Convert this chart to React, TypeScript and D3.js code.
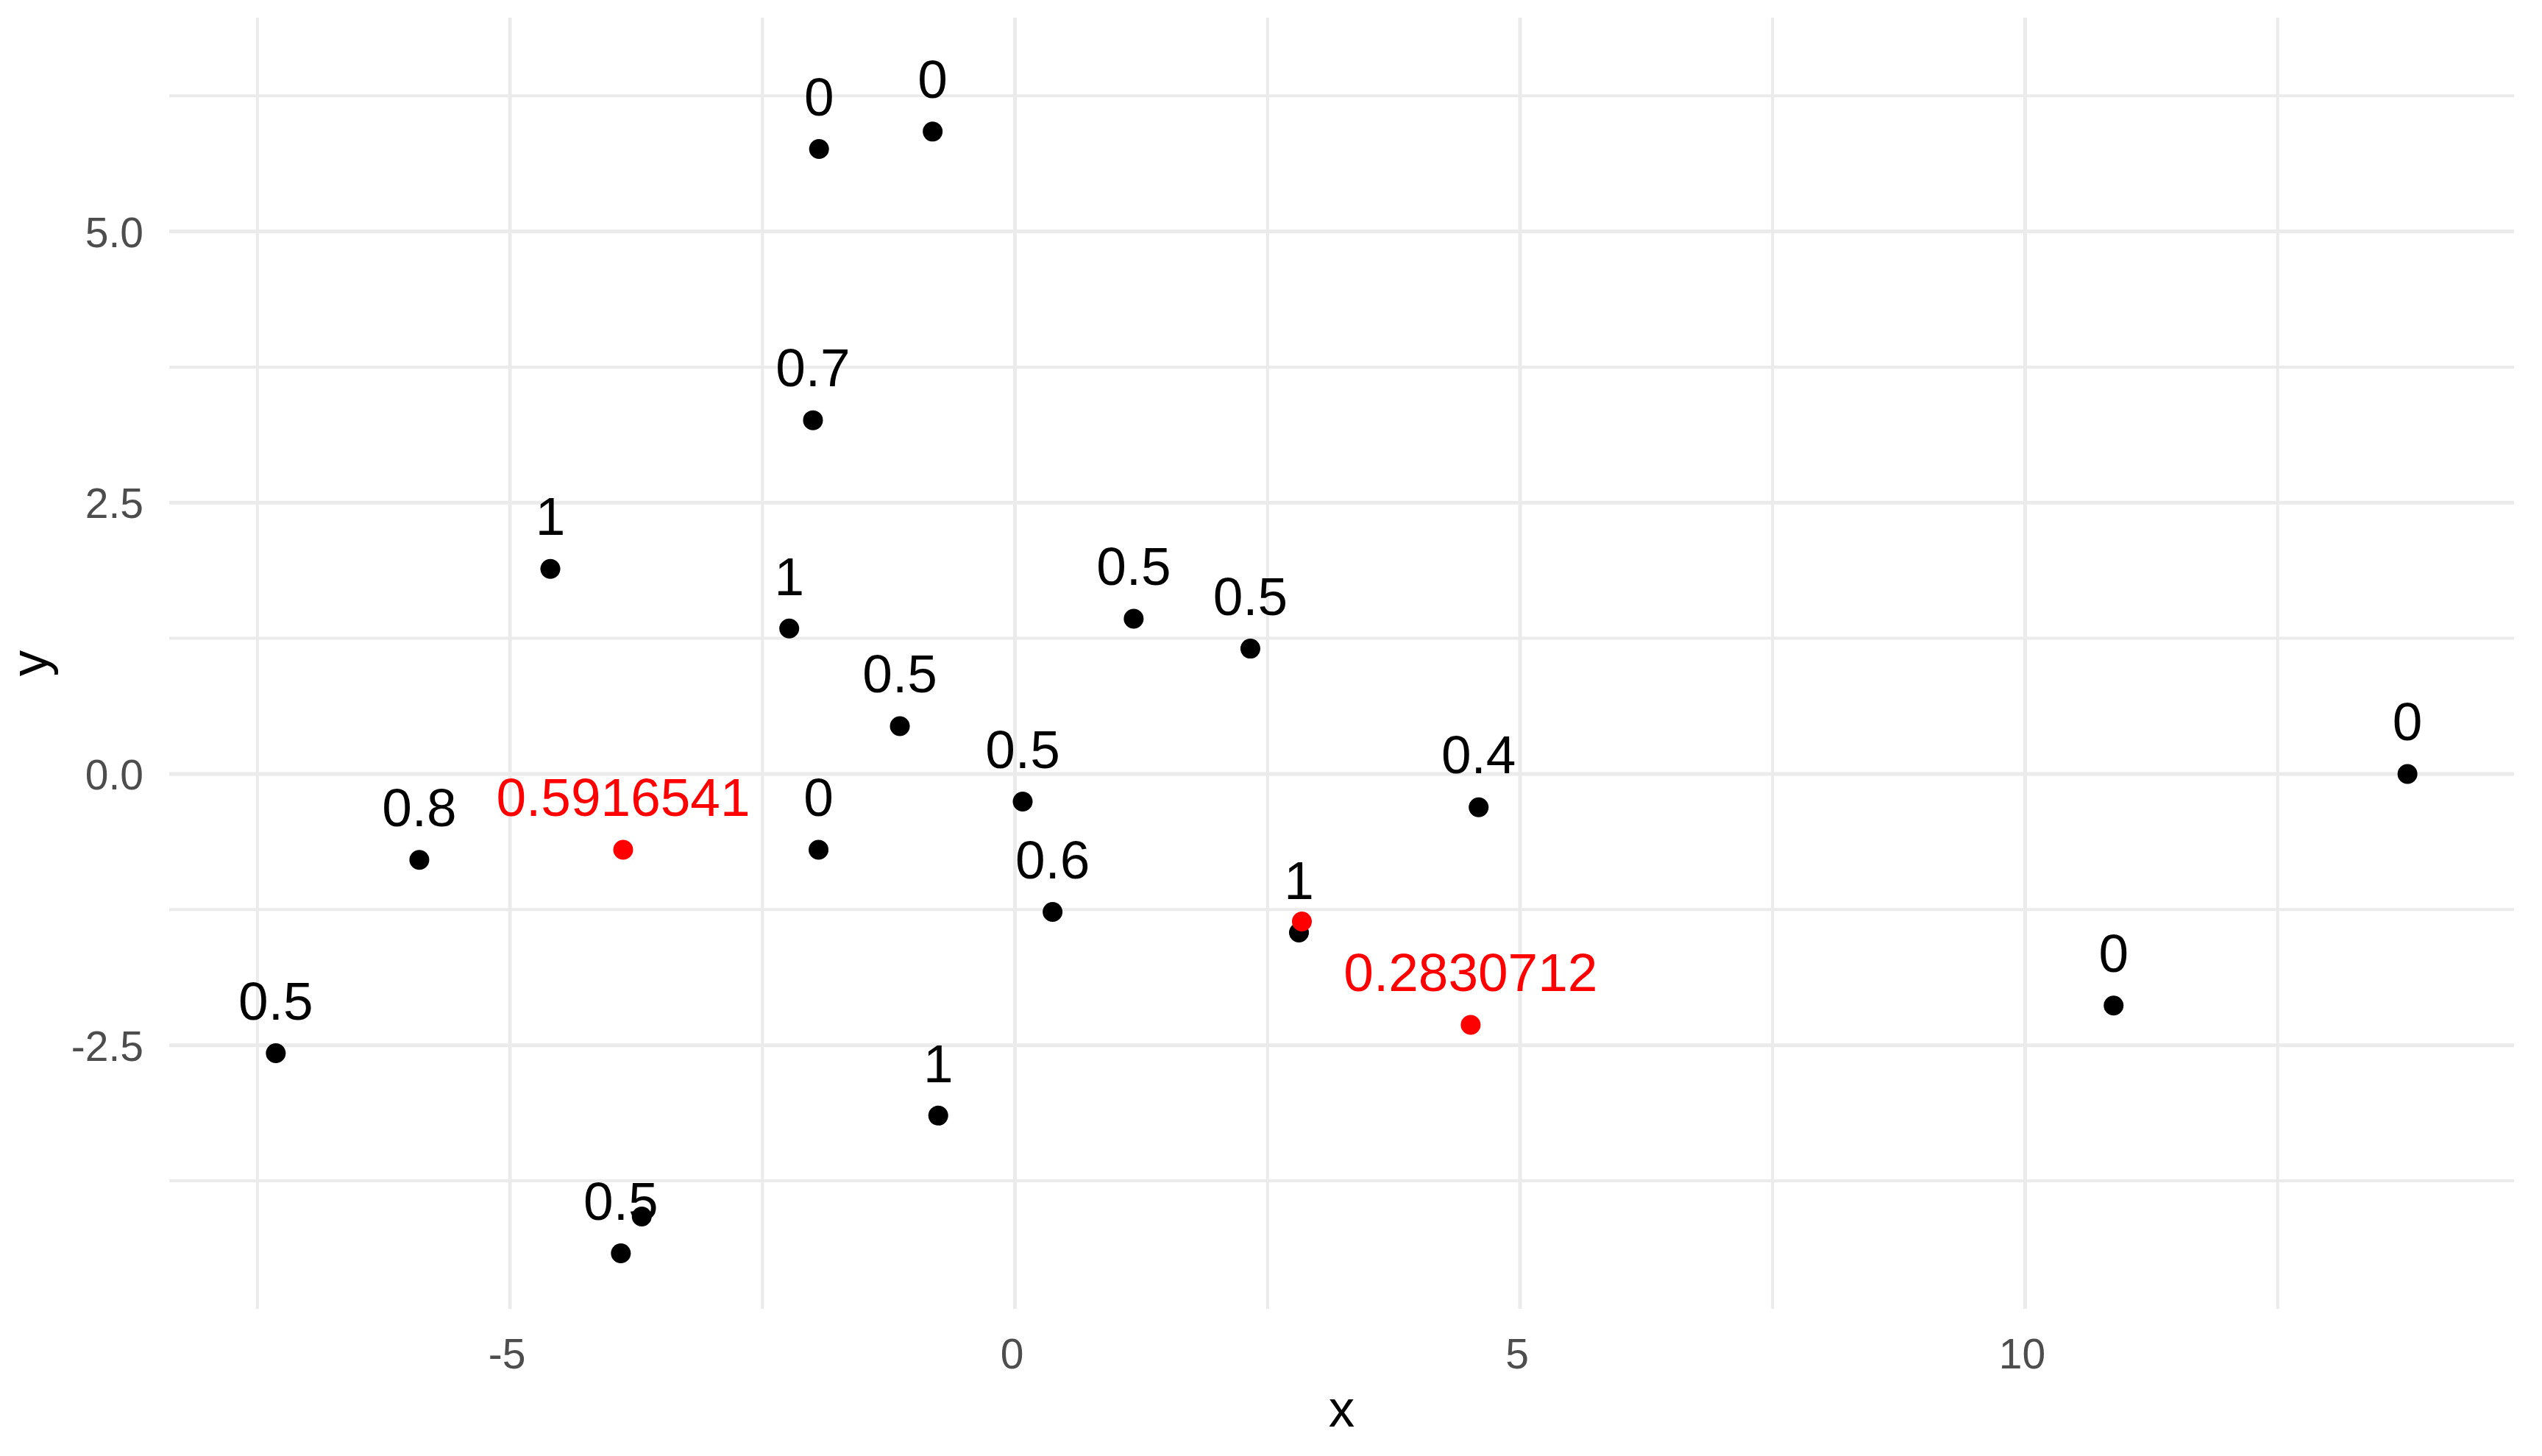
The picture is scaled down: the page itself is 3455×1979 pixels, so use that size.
import React, { useEffect } from "react";
import * as d3 from "d3";

// ---- data ----
const pointX = [-1.94, -0.815, -2.0, -4.6, -2.235, -1.14, 1.175, 2.33, 0.076, 4.59, 13.785, -5.897, -1.945, 0.372, 2.811, 10.876, -7.318, -0.76, -3.902, -3.695];
const pointY = [5.76, 5.92, 3.26, 1.89, 1.34, 0.44, 1.43, 1.155, -0.255, -0.307, 0.0, -0.792, -0.699, -1.272, -1.462, -2.135, -2.574, -3.149, -4.418, -4.079];
const pointLabels = ["0", "0", "0.7", "1", "1", "0.5", "0.5", "0.5", "0.5", "0.4", "0", "0.8", "0", "0.6", "1", "0", "0.5", "1", "0.5", ""];

const redX = [-3.879, 4.511, 2.84];
const redY = [-0.699, -2.313, -1.36];
const redLabels = ["0.5916541", "0.2830712", ""];

const xDomain = [-8.373, 14.84];
const yDomain = [-4.93, 6.97];
const xTicks = [-5, 0, 5, 10];
const xTickLabels = ["-5", "0", "5", "10"];
const xMinor = [-7.5, -2.5, 2.5, 7.5, 12.5];
const yTicks = [-2.5, 0, 2.5, 5];
const yTickLabels = ["-2.5", "0.0", "2.5", "5.0"];
const yMinor = [-3.75, -1.25, 1.25, 3.75, 6.25];
const labelNudge = 0.5;

const W = 3455;
const H = 1979;
const panel = { left: 230, right: 3417, top: 24, bottom: 1779 };
const FONT = "'Liberation Sans', Arial, sans-serif";

export default function App() {
  useEffect(() => {
    document.body.style.margin = "0";
  }, []);

  const x = d3.scaleLinear().domain(xDomain).range([panel.left, panel.right]);
  const y = d3.scaleLinear().domain(yDomain).range([panel.bottom, panel.top]);

  const black = pointX.map((v, i) => ({ x: v, y: pointY[i], label: pointLabels[i] }));
  const red = redX.map((v, i) => ({ x: v, y: redY[i], label: redLabels[i] }));

  const gridColor = "#EBEBEB";

  return (
    <svg width={W} height={H} style={{ position: "absolute", left: 0, top: 0, background: "#fff" }} fontFamily={FONT}>
      <rect x={0} y={0} width={W} height={H} fill="#fff" />
      {/* minor grid */}
      {xMinor.map((t) => (
        <line key={"xm" + t} x1={x(t)} x2={x(t)} y1={panel.top} y2={panel.bottom} stroke={gridColor} strokeWidth={4} />
      ))}
      {yMinor.map((t) => (
        <line key={"ym" + t} x1={panel.left} x2={panel.right} y1={y(t)} y2={y(t)} stroke={gridColor} strokeWidth={4} />
      ))}
      {/* major grid */}
      {xTicks.map((t) => (
        <line key={"xM" + t} x1={x(t)} x2={x(t)} y1={panel.top} y2={panel.bottom} stroke={gridColor} strokeWidth={5} />
      ))}
      {yTicks.map((t) => (
        <line key={"yM" + t} x1={panel.left} x2={panel.right} y1={y(t)} y2={y(t)} stroke={gridColor} strokeWidth={5} />
      ))}

      {/* tick labels */}
      {xTicks.map((t, i) => (
        <text key={"xt" + t} x={x(t) - 4} y={1860} textAnchor="middle" fontSize={57} fill="#4D4D4D">
          {xTickLabels[i]}
        </text>
      ))}
      {yTicks.map((t, i) => (
        <text key={"yt" + t} x={195} y={y(t) + 21} textAnchor="end" fontSize={57} fill="#4D4D4D">
          {yTickLabels[i]}
        </text>
      ))}

      {/* axis titles */}
      <text x={(panel.left + panel.right) / 2} y={1939} textAnchor="middle" fontSize={71} fill="#000">
        x
      </text>
      <text
        transform={`translate(64,${(panel.top + panel.bottom) / 2}) rotate(-90)`}
        textAnchor="middle"
        fontSize={71}
        fill="#000"
      >
        y
      </text>

      {/* black points */}
      {black.map((d, i) => (
        <circle key={"p" + i} cx={x(d.x)} cy={y(d.y)} r={13.5} fill="#000" />
      ))}
      {black.map((d, i) =>
        d.label ? (
          <text key={"l" + i} x={x(d.x)} y={y(d.y + labelNudge) + 28} textAnchor="middle" fontSize={73} fill="#000">
            {d.label}
          </text>
        ) : null
      )}

      {/* red points */}
      {red.map((d, i) => (
        <circle key={"r" + i} cx={x(d.x)} cy={y(d.y)} r={13.5} fill="#FF0000" />
      ))}
      {red.map((d, i) =>
        d.label ? (
          <text key={"rl" + i} x={x(d.x)} y={y(d.y + labelNudge) + 28} textAnchor="middle" fontSize={73} fill="#FF0000">
            {d.label}
          </text>
        ) : null
      )}
    </svg>
  );
}
